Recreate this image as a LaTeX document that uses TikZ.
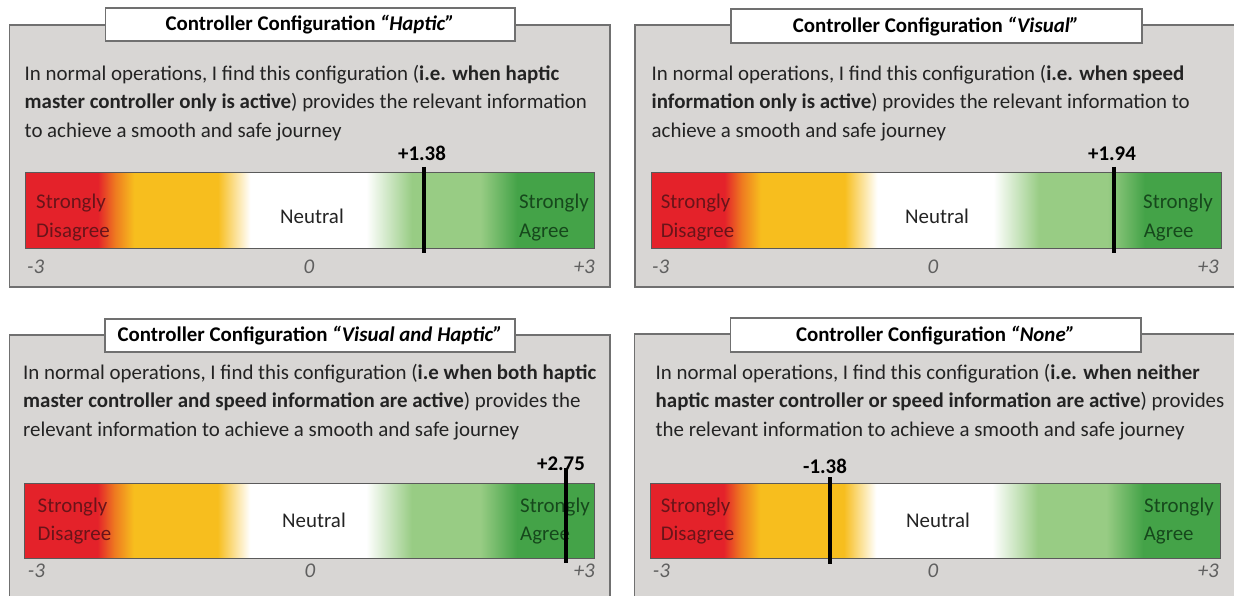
\documentclass[tikz,border=0pt]{standalone}
\usepackage{fontspec}
\setmainfont{Carlito}
\definecolor{lkred}{RGB}{228,34,42}
\definecolor{lkorange}{RGB}{238,122,32}
\definecolor{lkyellow}{RGB}{247,190,30}
\definecolor{lkltgreen}{RGB}{152,204,132}
\definecolor{lkgreen}{RGB}{68,163,72}
\definecolor{panelgray}{RGB}{216,214,212}
\definecolor{bordergray}{RGB}{112,112,112}
\definecolor{barborder}{RGB}{90,90,90}
\definecolor{bodytext}{RGB}{35,35,35}
\definecolor{disagreetext}{RGB}{105,20,25}
\definecolor{agreetext}{RGB}{22,72,28}
\definecolor{scalegray}{RGB}{95,95,95}
\pgfdeclarehorizontalshading{likert}{100bp}{color(0bp)=(lkred); color(25bp)=(lkred); color(31.4bp)=(lkred); color(32.9bp)=(lkorange); color(34.6bp)=(lkyellow); color(41.95bp)=(lkyellow); color(44.8bp)=(white); color(55bp)=(white); color(59bp)=(lkltgreen); color(65bp)=(lkltgreen); color(68.25bp)=(lkgreen); color(75bp)=(lkgreen); color(100bp)=(lkgreen)}
\newcommand\bodyfnt{\fontsize{20.9}{28.5}\selectfont}
\newcommand\titlefnt{\fontsize{20.9}{24}\selectfont\bfseries}
\begin{document}
\begin{tikzpicture}[x=1pt,y=-1pt,
  panelbox/.style={draw=bordergray, line width=1.6pt, fill=panelgray},
  titlebox/.style={draw=bordergray, line width=1.3pt, fill=white},
  likertbar/.style={draw=barborder, line width=1pt, shading=likert},
  valline/.style={line width=3.5pt, black},
  bodyline/.style={anchor=base west, inner sep=0pt, text=bodytext, font=\bodyfnt},
  ttl/.style={anchor=base, inner sep=0pt, text=black, font=\titlefnt},
  valtext/.style={anchor=base, inner sep=0pt, text=black, font=\bodyfnt\bfseries},
  dislbl/.style={anchor=base west, inner sep=0pt, text=disagreetext, font=\bodyfnt},
  agrlbl/.style={inner sep=0pt, text=agreetext, font=\bodyfnt},
  neulbl/.style={anchor=base, inner sep=0pt, text=bodytext, font=\bodyfnt},
  scalelbl/.style={inner sep=0pt, text=scalegray, font=\bodyfnt\itshape}
]
\clip (0,0) rectangle (1234,596);
\fill[white] (0,0) rectangle (1234,596);

% ---------------- Panel 1: Haptic ----------------
\draw[panelbox] (9.5,25) rectangle (610,287);
\node[titlebox, minimum width=409.5pt, minimum height=33pt, inner sep=0pt] (t1box) at (310.25,24.5) {};
\node[ttl] (t1) at (310,30.5) {Controller Configuration \textit{“Haptic”}};
\node[bodyline] (p1l1) at (24.5,80.5) {In normal operations, I find this configuration (\textbf{i.e. when haptic}};
\node[bodyline] (p1l2) at (24.5,109) {\textbf{master controller only is active}) provides the relevant information};
\node[bodyline] (p1l3) at (24.5,137.5) {to achieve a smooth and safe journey};
\shadedraw[likertbar] (25,173) rectangle (594,248);
\coordinate (m1a) at (424,167);
\coordinate (m1b) at (424,253);
\draw[valline] (m1a) -- (m1b);
\node[valtext] (v1) at (422,161) {+1.38};
\node[dislbl] (s1a) at (36,209) {Strongly};
\node[dislbl] (s1b) at (36,237) {Disagree};
\node[neulbl] (n1) at (312,224) {Neutral};
\node[agrlbl, anchor=base east] (a1a) at (589,209) {Strongly};
\node[agrlbl, anchor=base west] (a1b) at (519,237) {Agree};
\node[scalelbl, anchor=base west] (k1a) at (27,273) {-3};
\node[scalelbl, anchor=base] (k1b) at (309,273) {0};
\node[scalelbl, anchor=base east] (k1c) at (595,273) {+3};

% ---------------- Panel 2: Visual ----------------
\draw[panelbox] (635,25) rectangle (1250,287);
\node[titlebox, minimum width=411pt, minimum height=34pt, inner sep=0pt] (t2box) at (936.5,26) {};
\node[ttl] (t2) at (936,32.5) {Controller Configuration \textit{“Visual”}};
\node[bodyline] (p2l1) at (651.5,80.5) {In normal operations, I find this configuration (\textbf{i.e. when speed}};
\node[bodyline] (p2l2) at (651.5,109) {\textbf{information only is active}) provides the relevant information to};
\node[bodyline] (p2l3) at (651.5,137.5) {achieve a smooth and safe journey};
\shadedraw[likertbar] (651.5,173) rectangle (1221.5,248);
\coordinate (m2a) at (1114,167);
\coordinate (m2b) at (1114,253);
\draw[valline] (m2a) -- (m2b);
\node[valtext] (v2) at (1112,161) {+1.94};
\node[dislbl] (s2a) at (660.6,209) {Strongly};
\node[dislbl] (s2b) at (660.6,237) {Disagree};
\node[neulbl] (n2) at (937,224) {Neutral};
\node[agrlbl, anchor=base east] (a2a) at (1213,209) {Strongly};
\node[agrlbl, anchor=base west] (a2b) at (1143.6,237) {Agree};
\node[scalelbl, anchor=base west] (k2a) at (652,273) {-3};
\node[scalelbl, anchor=base] (k2b) at (933,273) {0};
\node[scalelbl, anchor=base east] (k2c) at (1219,273) {+3};

% ---------------- Panel 3: Visual and Haptic ----------------
\draw[panelbox] (9.5,335) rectangle (610,620);
\node[titlebox, minimum width=410pt, minimum height=33pt, inner sep=0pt] (t3box) at (310,335.5) {};
\node[ttl] (t3) at (310,341.5) {Controller Configuration \textit{“Visual and Haptic”}};
\node[bodyline] (p3l1) at (23,379) {In normal operations, I find this configuration (\textbf{i.e when both haptic}};
\node[bodyline] (p3l2) at (23,407.5) {\textbf{master controller and speed information are active}) provides the};
\node[bodyline] (p3l3) at (23,436) {relevant information to achieve a smooth and safe journey};
\shadedraw[likertbar] (24.5,483) rectangle (594,558);
\node[dislbl] (s3a) at (37.5,512) {Strongly};
\node[dislbl] (s3b) at (37.5,540) {Disagree};
\node[neulbl] (n3) at (314,527) {Neutral};
\node[agrlbl, anchor=base east] (a3a) at (590,512) {Strongly};
\node[agrlbl, anchor=base west] (a3b) at (520,540) {Agree};
\coordinate (m3a) at (566,468);
\coordinate (m3b) at (566,563);
\draw[valline] (m3a) -- (m3b);
\node[valtext] (v3) at (561,470) {+2.75};
\node[scalelbl, anchor=base west] (k3a) at (27.7,577) {-3};
\node[scalelbl, anchor=base] (k3b) at (310,577) {0};
\node[scalelbl, anchor=base east] (k3c) at (595,577) {+3};

% ---------------- Panel 4: None ----------------
\draw[panelbox] (634.5,334) rectangle (1250,620);
\node[titlebox, minimum width=410.5pt, minimum height=34pt, inner sep=0pt] (t4box) at (935.8,335) {};
\node[ttl] (t4) at (935.5,341.5) {Controller Configuration \textit{“None”}};
\node[bodyline] (p4l1) at (655.5,379) {In normal operations, I find this configuration (\textbf{i.e. when neither}};
\node[bodyline] (p4l2) at (655.5,407.5) {\textbf{haptic master controller or speed information are active}) provides};
\node[bodyline] (p4l3) at (655.5,436) {the relevant information to achieve a smooth and safe journey};
\shadedraw[likertbar] (650.8,483) rectangle (1220,558);
\coordinate (m4a) at (830,477);
\coordinate (m4b) at (830,564);
\draw[valline] (m4a) -- (m4b);
\node[valtext] (v4) at (825,473) {-1.38};
\node[dislbl] (s4a) at (660.6,512) {Strongly};
\node[dislbl] (s4b) at (660.6,540) {Disagree};
\node[neulbl] (n4) at (938,527) {Neutral};
\node[agrlbl, anchor=base east] (a4a) at (1214,512) {Strongly};
\node[agrlbl, anchor=base west] (a4b) at (1143.6,540) {Agree};
\node[scalelbl, anchor=base west] (k4a) at (652.7,577) {-3};
\node[scalelbl, anchor=base] (k4b) at (933,577) {0};
\node[scalelbl, anchor=base east] (k4c) at (1219,577) {+3};
\end{tikzpicture}
\end{document}
